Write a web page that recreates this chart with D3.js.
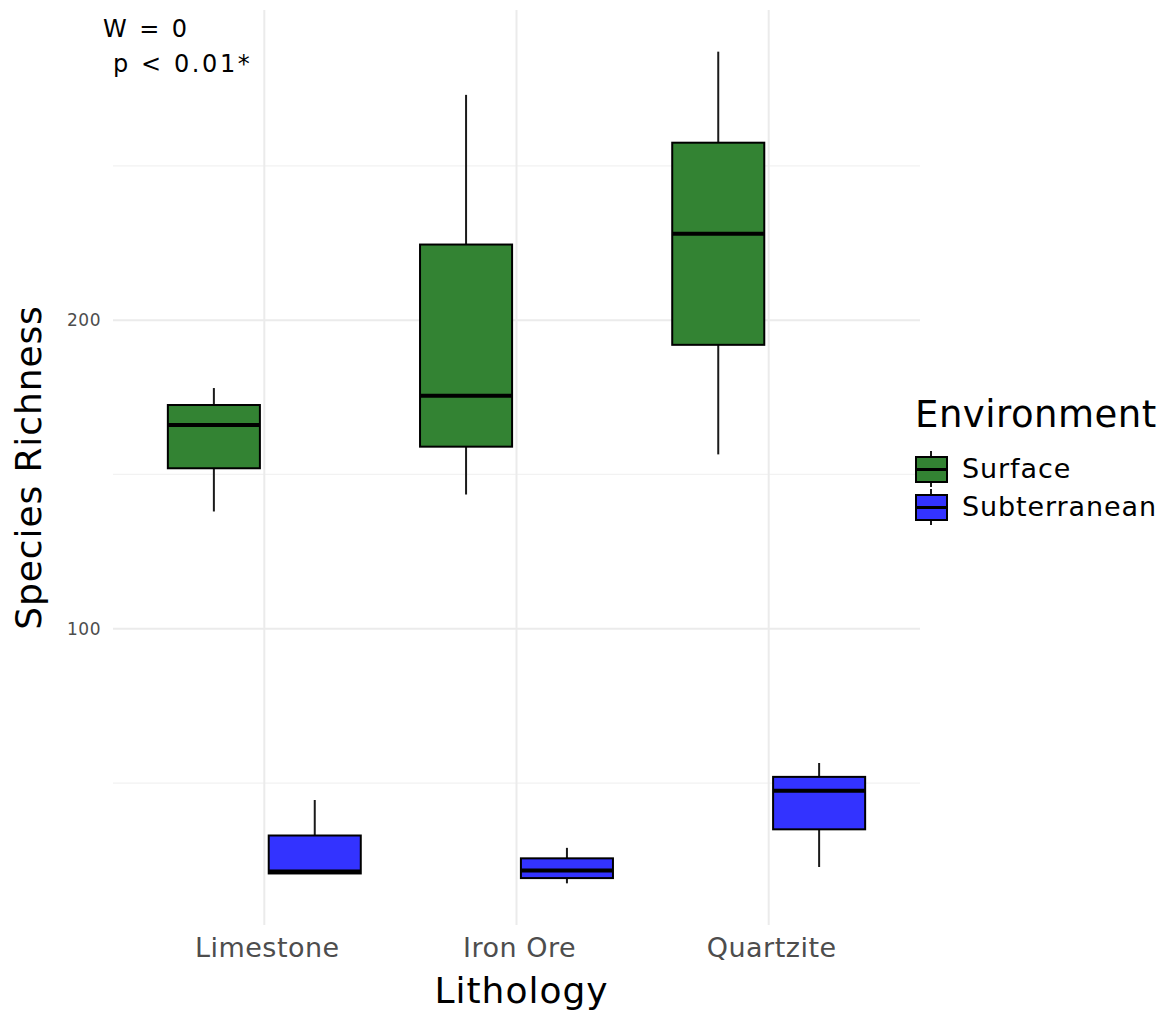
<!DOCTYPE html>
<html>
<head>
<meta charset="utf-8">
<script src="https://cdn.jsdelivr.net/npm/d3@7"></script>
<style>
  body { margin: 0; background: #fff; }
  text { font-family: "DejaVu Sans", Verdana, sans-serif; }
</style>
</head>
<body>
<svg id="chart"></svg>
<script>
// data
const lithologies = ["Limestone", "Iron Ore", "Quartzite"];
const environments = ["Surface", "Subterranean"];
const envColors = ["rgb(51,131,51)", "rgb(51,51,255)"];

// five-number summaries [min, q1, median, q3, max], one per lithology
const surfaceStats = [
    [138, 152, 166, 172.5, 178],
    [143.5, 159, 175.5, 224.5, 273],
    [156.5, 192, 228, 257.5, 287]
];
const subterraneanStats = [
    [20.7, 20.7, 21.3, 33, 44.5],
    [17.5, 19.2, 21.7, 25.6, 29],
    [22.8, 35, 47.5, 52, 56.5]
];
const yTicks = [100, 200];
const yMinor = [50, 150, 250];

const width = 1167, height = 1012;
const margin = {top: 10, right: 247, bottom: 87, left: 113};

const svg = d3.select("#chart")
    .attr("width", width)
    .attr("height", height);

const x = d3.scaleLinear()
    .domain([0.4, 3.6])
    .range([margin.left, width - margin.right]);

const y = d3.scaleLinear()
    .domain([4.0, 300.5])
    .range([height - margin.bottom, margin.top]);

const grid = svg.append("g");

grid.selectAll(".minor")
    .data(yMinor)
    .enter()
    .append("line")
    .attr("x1", margin.left)
    .attr("x2", width - margin.right)
    .attr("y1", d => y(d))
    .attr("y2", d => y(d))
    .attr("stroke", "#f2f2f2")
    .attr("stroke-width", 1.2);

grid.selectAll(".major")
    .data(yTicks)
    .enter()
    .append("line")
    .attr("x1", margin.left)
    .attr("x2", width - margin.right)
    .attr("y1", d => y(d))
    .attr("y2", d => y(d))
    .attr("stroke", "#ebebeb")
    .attr("stroke-width", 2);

grid.selectAll(".vert")
    .data(lithologies)
    .enter()
    .append("line")
    .attr("x1", (d, i) => x(i + 1))
    .attr("x2", (d, i) => x(i + 1))
    .attr("y1", margin.top)
    .attr("y2", height - margin.bottom)
    .attr("stroke", "#ebebeb")
    .attr("stroke-width", 2);

// boxes
const dodge = 0.2;
const boxW = x(0.365) - x(0);

const boxes = [];
surfaceStats.forEach((s, i) => boxes.push({pos: i + 1 - dodge, s: s, env: 0}));
subterraneanStats.forEach((s, i) => boxes.push({pos: i + 1 + dodge, s: s, env: 1}));

const g = svg.selectAll(".box")
    .data(boxes)
    .enter()
    .append("g");

// whiskers
g.append("line")
    .attr("x1", d => x(d.pos)).attr("x2", d => x(d.pos))
    .attr("y1", d => y(d.s[4])).attr("y2", d => y(d.s[3]))
    .attr("stroke", "#1a1a1a").attr("stroke-width", 2);
g.append("line")
    .attr("x1", d => x(d.pos)).attr("x2", d => x(d.pos))
    .attr("y1", d => y(d.s[1])).attr("y2", d => y(d.s[0]))
    .attr("stroke", "#1a1a1a").attr("stroke-width", 2);

g.append("rect")
    .attr("x", d => x(d.pos) - boxW / 2)
    .attr("width", boxW)
    .attr("y", d => y(d.s[3]))
    .attr("height", d => y(d.s[1]) - y(d.s[3]))
    .attr("fill", d => envColors[d.env])
    .attr("stroke", "#000")
    .attr("stroke-width", 2);

g.append("line")
    .attr("x1", d => x(d.pos) - boxW / 2)
    .attr("x2", d => x(d.pos) + boxW / 2)
    .attr("y1", d => y(d.s[2])).attr("y2", d => y(d.s[2]))
    .attr("stroke", "#000").attr("stroke-width", 4);

// axis labels
svg.selectAll(".ytick")
    .data(yTicks)
    .enter()
    .append("text")
    .attr("x", margin.left - 12)
    .attr("y", d => y(d))
    .attr("dy", "0.35em")
    .attr("text-anchor", "end")
    .attr("font-size", 17)
    .attr("letter-spacing", 0.5)
    .attr("fill", "#4d4d4d")
    .text(d => d);

svg.selectAll(".xtick")
    .data(lithologies)
    .enter()
    .append("text")
    .attr("x", (d, i) => x(i + 1) + 3)
    .attr("y", height - margin.bottom + 32)
    .attr("text-anchor", "middle")
    .attr("font-size", 27)
    .attr("letter-spacing", 0.5)
    .attr("fill", "#4d4d4d")
    .text(d => d);

svg.append("text")
    .attr("x", x(2) + 5)
    .attr("y", 1003)
    .attr("text-anchor", "middle")
    .attr("font-size", 36)
    .attr("letter-spacing", 1)
    .attr("fill", "#000")
    .text("Lithology");

svg.append("text")
    .attr("transform", `translate(41, ${(margin.top + height - margin.bottom) / 2}) rotate(-90)`)
    .attr("text-anchor", "middle")
    .attr("font-size", 36)
    .attr("letter-spacing", 0.9)
    .attr("fill", "#000")
    .text("Species Richness");

// test annotation
svg.append("text")
    .attr("x", 103).attr("y", 37)
    .attr("font-size", 24).attr("letter-spacing", 2.4).attr("fill", "#000")
    .text("W = 0");
svg.append("text")
    .attr("x", 113).attr("y", 72)
    .attr("font-size", 24).attr("letter-spacing", 2.6).attr("fill", "#000")
    .text("p < 0.01*");

// legend
const legend = svg.append("g").attr("transform", "translate(915, 0)");

legend.append("text")
    .attr("x", 0).attr("y", 427)
    .attr("font-size", 37).attr("letter-spacing", 0.5).attr("fill", "#000")
    .text("Environment");

const item = legend.selectAll(".item")
    .data(environments)
    .enter()
    .append("g")
    .attr("transform", (d, i) => `translate(0, ${450 + i * 38})`);

item.append("line")
    .attr("x1", 16).attr("x2", 16)
    .attr("y1", 1).attr("y2", 37)
    .attr("stroke", "#1a1a1a").attr("stroke-width", 2);
item.append("rect")
    .attr("x", 1).attr("y", 7)
    .attr("width", 31).attr("height", 25)
    .attr("fill", (d, i) => envColors[i])
    .attr("stroke", "#000").attr("stroke-width", 2);
item.append("line")
    .attr("x1", 1).attr("x2", 32)
    .attr("y1", 19.5).attr("y2", 19.5)
    .attr("stroke", "#000").attr("stroke-width", 3);
item.append("text")
    .attr("x", 47).attr("y", 19)
    .attr("dy", "0.35em")
    .attr("font-size", 27)
    .attr("letter-spacing", 0.9)
    .attr("fill", "#000")
    .text(d => d);
</script>
</body>
</html>
